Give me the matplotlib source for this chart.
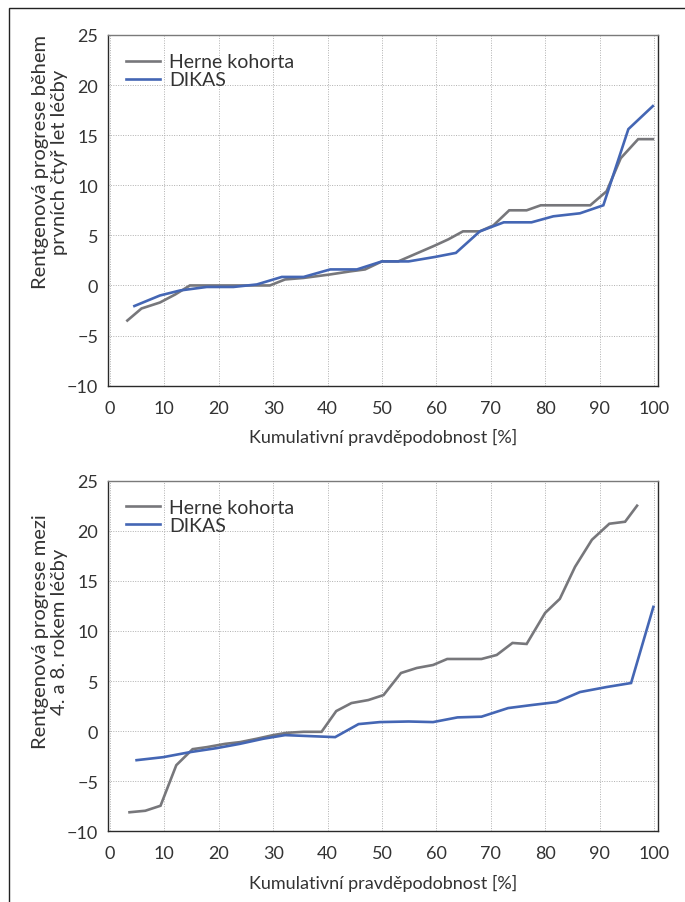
import matplotlib.pyplot as plt
from matplotlib.patches import Rectangle

plt.rcParams['font.family'] = ['Lato', 'DejaVu Sans']

# horni graf - prvni ctyri roky lecby
herne1_x = [3.2, 5.8, 9.2, 12.0, 14.7, 29.4, 32.2, 35.6, 40.5, 44.1, 46.9, 50.0, 53.0,
            59.8, 62.2, 64.9, 68.0, 70.5, 73.4, 76.6, 79.2, 88.3, 91.3, 93.9, 97.1, 99.8]
herne1_y = [-3.5, -2.3, -1.7, -0.9, 0.0, 0.0, 0.6, 0.75, 1.1, 1.4, 1.6, 2.4, 2.4,
            4.0, 4.6, 5.4, 5.4, 6.0, 7.5, 7.5, 8.0, 8.0, 9.4, 12.7, 14.6, 14.6]
dikas1_x = [4.5, 9.2, 12.9, 17.8, 22.7, 27.0, 31.6, 35.6, 40.5, 45.4, 50.0, 54.9,
            59.8, 63.6, 68.0, 72.4, 77.5, 81.5, 86.4, 90.7, 95.3, 99.8]
dikas1_y = [-2.05, -1.0, -0.5, -0.15, -0.15, 0.1, 0.85, 0.85, 1.6, 1.6, 2.4, 2.4,
            2.85, 3.25, 5.4, 6.3, 6.3, 6.9, 7.2, 8.0, 15.6, 17.9]

# dolni graf - mezi 4. a 8. rokem
herne2_x = [3.6, 6.5, 9.3, 12.2, 15.2, 17.8, 21.2, 23.9, 27.0, 30.0, 32.5, 35.6, 38.9,
            41.6, 44.4, 47.5, 50.3, 53.5, 56.4, 59.4, 62.0, 68.3, 71.1, 74.0, 76.6,
            80.0, 82.7, 85.5, 88.6, 91.8, 94.7, 96.9]
herne2_y = [-8.1, -7.95, -7.45, -3.4, -1.8, -1.6, -1.27, -1.1, -0.76, -0.4, -0.17, -0.07, -0.07,
            2.0, 2.8, 3.1, 3.6, 5.8, 6.3, 6.6, 7.2, 7.2, 7.6, 8.8, 8.7,
            11.8, 13.2, 16.4, 19.1, 20.7, 20.9, 22.5]
dikas2_x = [4.9, 9.8, 14.7, 19.6, 23.9, 28.2, 32.2, 36.8, 41.4, 45.7, 49.6, 54.9,
            59.4, 63.9, 68.3, 73.2, 77.5, 82.1, 86.4, 91.3, 95.8, 99.9]
dikas2_y = [-2.9, -2.6, -2.1, -1.7, -1.27, -0.76, -0.4, -0.5, -0.6, 0.7, 0.9, 0.96,
            0.9, 1.37, 1.44, 2.3, 2.6, 2.9, 3.9, 4.4, 4.8, 12.4]

ylabels = ["Rentgenová progrese během\nprvních čtyř let léčby",
           "Rentgenová progrese mezi\n4. a 8. rokem léčby"]
ylabel_pos = [0.64, 0.571]

gray = "#77777b"
blue = "#4466b4"
txt = "#333333"

fig = plt.figure(figsize=(6.85, 9.03), dpi=100)
ax1 = fig.add_axes([0.1577, 0.5718, 0.8025, 0.3884])
ax2 = fig.add_axes([0.1577, 0.0783, 0.8025, 0.3883])

data = [(herne1_x, herne1_y, dikas1_x, dikas1_y), (herne2_x, herne2_y, dikas2_x, dikas2_y)]

for ax, (hx, hy, dx, dy), lab, ly in zip([ax1, ax2], data, ylabels, ylabel_pos):
    ax.plot(hx, hy, color=gray, lw=1.9, label="Herne kohorta", solid_joinstyle="miter")
    ax.plot(dx, dy, color=blue, lw=1.9, label="DIKAS", solid_joinstyle="miter")
    ax.set_xlim(-0.35, 100.7)
    ax.set_ylim(-10, 25)
    ax.set_xticks(range(0, 101, 10))
    ax.set_yticks(range(-10, 26, 5))
    ax.grid(True, linestyle=(0, (1, 1.5)), color="#b0b0b0", lw=0.7)
    ax.tick_params(axis="both", length=0, labelsize=13, labelcolor=txt)
    ax.tick_params(axis="x", pad=10)
    ax.tick_params(axis="y", pad=7)
    for s in ["left", "bottom", "right"]:
        ax.spines[s].set_color("#2a2a2a")
        ax.spines[s].set_linewidth(1.0)
    ax.spines["top"].set_color("#7a7a7a")
    ax.spines["top"].set_linewidth(1.0)
    ax.set_xlabel("Kumulativní pravděpodobnost [%]", fontsize=13, color=txt, labelpad=9)
    ax.set_ylabel(lab, fontsize=14.5, color=txt, linespacing=1.12, va="center")
    ax.yaxis.set_label_coords(-0.105, ly)
    ax.legend(loc="upper left", frameon=False, fontsize=14, handlelength=1.7,
              handletextpad=0.5, labelspacing=0.05, borderaxespad=0.55,
              labelcolor=txt)

# ramecek obrazku (horni a leva hrana)
fig.patches.append(Rectangle((9 / 685, -0.1), 1.2, 1.1 - 9 / 903, transform=fig.transFigure,
                             fill=False, edgecolor="#222222", lw=1.0))

fig.savefig("out.png", dpi=100)
